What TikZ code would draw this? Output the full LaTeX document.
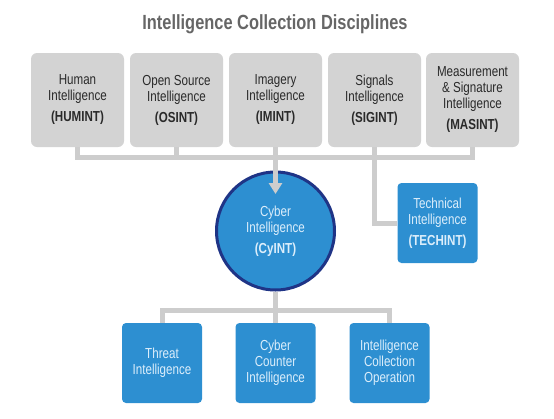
\documentclass[tikz,border=0pt]{standalone}
\usepackage{fontspec}
\setmainfont[FakeStretch=0.8]{Liberation Sans}
\usetikzlibrary{arrows.meta,backgrounds}
\definecolor{boxgray}{HTML}{D3D3D3}
\definecolor{linegray}{HTML}{CDCDCD}
\definecolor{cyblue}{HTML}{2D8FD1}
\definecolor{navy}{HTML}{1F3486}
\definecolor{txtdark}{HTML}{2A2A2A}
\definecolor{txtlight}{HTML}{DCEEFB}
\definecolor{titlegray}{HTML}{666666}
\begin{document}
\begin{tikzpicture}[x=1pt,y=-1pt,
  disc/.style={fill=boxgray, rounded corners=6pt, minimum width=93pt, minimum height=94pt,
    align=center, text=txtdark, font=\fontsize{14.5}{16}\selectfont, inner sep=0pt},
  bluebox/.style={fill=cyblue, rounded corners=4pt, minimum width=80pt, minimum height=80pt,
    align=center, text=txtlight, font=\fontsize{14.5}{16}\selectfont, inner sep=0pt},
  conn/.style={draw=linegray, line width=5pt},
  titlestyle/.style={text=titlegray, font=\fontsize{20.5}{24}\selectfont\bfseries}]
\useasboundingbox (0,0) rectangle (554,418);
\node[titlestyle] (title) at (275,24) {Intelligence Collection Disciplines};
% top row
\node[disc] (b1) at (77.5,100) {Human\\Intelligence\\[5pt]\textbf{(HUMINT)}};
\node[disc] (b2) at (176.5,100) {Open Source\\Intelligence\\[5pt]\textbf{(OSINT)}};
\node[disc] (b3) at (275.5,100) {Imagery\\Intelligence\\[5pt]\textbf{(IMINT)}};
\node[disc] (b4) at (374.5,100) {Signals\\Intelligence\\[5pt]\textbf{(SIGINT)}};
\node[disc] (b5) at (472.5,100) {Measurement\\\& Signature\\Intelligence\\[5pt]\textbf{(MASINT)}};
% cyber circle
\node[circle, fill=cyblue, draw=navy, line width=3pt, minimum size=118pt, inner sep=0pt,
  align=center, text=txtlight, font=\fontsize{14.5}{16}\selectfont] (cy) at (275.5,231)
  {Cyber\\Intelligence\\[5pt]\textbf{(CyINT)}};
% technical
\node[bluebox] (tech) at (437.5,223) {Technical\\Intelligence\\[5pt]\textbf{(TECHINT)}};
% bottom row
\node[bluebox] (t1) at (162,363) {Threat\\Intelligence};
\node[bluebox] (t2) at (275.5,363) {Cyber\\Counter\\Intelligence};
\node[bluebox] (t3) at (389.5,363) {Intelligence\\Collection\\Operation};
% connectors
\coordinate (bar) at (0,157);
\coordinate (bbar) at (0,310);
\coordinate (cyarrow) at (275.5,194);
\begin{scope}[on background layer]
\draw[conn] (b1.south) -- (b1.south |- bar) -- (b5.south |- bar) -- (b5.south);
\draw[conn] (b2.south) -- (b2.south |- bar);
\draw[conn] (b4.south) |- (tech.west);
\draw[conn] (cy.south) -- (cy.south |- bbar);
\draw[conn] (t1.north) -- (t1.north |- bbar) -- (t3.north |- bbar) -- (t3.north);
\draw[conn] (t2.north) -- (t2.north |- bbar);
\end{scope}
\draw[conn, -{Triangle[width=13pt,length=11pt]}] (b3.south) -- (cyarrow);
\end{tikzpicture}
\end{document}
